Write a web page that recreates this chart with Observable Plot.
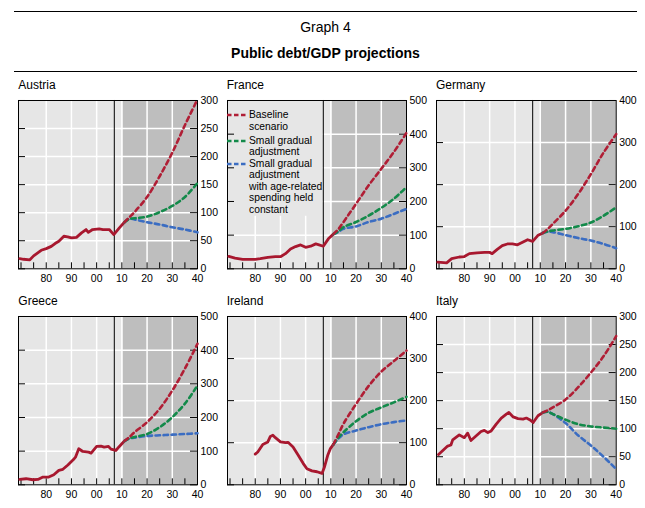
<!DOCTYPE html>
<html><head><meta charset="utf-8">
<script src="https://cdn.jsdelivr.net/npm/d3@7"></script>
<script src="https://cdn.jsdelivr.net/npm/@observablehq/plot@0.6"></script>
<style>
body{margin:0;background:#fff;font-family:"Liberation Sans",Arial,sans-serif;}
#root{position:relative;width:645px;height:508px;overflow:hidden;background:#fff;}
.hr{position:absolute;left:14px;width:623px;height:0;border-top:1px solid #000;}
.t{position:absolute;white-space:nowrap;color:#000;}
</style></head><body><div id="root"></div>
<script>
// ---------- DATA ----------
const countries = ["Austria", "France", "Germany", "Greece", "Ireland", "Italy"];
const seriesNames = ["Baseline scenario", "Small gradual adjustment", "Small gradual adjustment with age-related spending held constant"];

// historical public debt/GDP (year, % of GDP)
const austriaHist = [[1969.5,18],[1971,17],[1973.5,16],[1975,23],[1976.5,28],[1978,33],[1980,36],[1982,40],[1983.5,45],[1985,49],[1987,58],[1988.5,57],[1990,55],[1992,56],[1994,64],[1995.8,70],[1996.7,65],[1998.4,70],[2001,71],[2002.5,70],[2005,70],[2006.8,61],[2009,73],[2011,83]];
const franceHist = [[1969.5,37],[1972,32],[1975,28],[1980,28],[1982,30],[1985,34],[1988,36],[1990,36],[1992,45],[1994,59],[1996,66],[1998,71],[2000,64],[2002,67],[2004,74],[2005,72],[2007,67],[2009,89],[2011,103]];
const germanyHist = [[1969.5,16],[1973,14],[1975,24],[1978,28],[1980,29],[1982,36],[1985,38],[1988,39],[1990,39],[1991,36],[1993,46],[1995,55],[1997,59],[1999,59],[2001,57],[2003,63],[2005,69],[2007,65],[2009,79],[2011,85]];
const greeceHist = [[1969.5,16],[1972,18],[1974.7,15],[1976.7,16],[1978.7,23],[1981,23],[1983,30],[1985,43],[1986.6,46],[1988.6,59],[1990.8,75],[1991.6,82],[1992.9,107],[1994.5,99],[1996.8,97],[1997.8,94],[2000,114],[2001.7,115],[2003,112],[2004.7,114],[2005.7,106],[2007.6,102],[2009,114],[2011,130]];
const irelandHist = [[1980,73],[1981,78],[1983,96],[1985,102],[1986,115],[1987,118],[1988,112],[1990,102],[1992,100],[1993,101],[1995,90],[1997,71],[1999,51],[2000.5,38],[2002.5,33],[2004.5,31],[2006.5,27],[2007.5,43],[2008.8,71],[2009.8,86],[2011,96]];
const italyHist = [[1969.8,54],[1973.4,69],[1974.7,71],[1975.4,80],[1978,89],[1980,84],[1981.3,92],[1982.6,79],[1984.6,87],[1986.6,95],[1987.9,97],[1989.3,93],[1990.6,96],[1992.6,108],[1994.6,119],[1996.6,126],[1997.6,129],[1999.3,121],[2001.2,118],[2003.2,117],[2004.5,119],[2005.8,116],[2007.2,111],[2009.1,123],[2011.1,129]];

// projections
const projYears = [2011, 2013, 2015, 2020, 2025, 2030, 2035, 2040];
const austriaBaseline = [83, 92, 101, 128, 165, 207, 256, 302];
const austriaGradual  = [83, 89, 90, 93, 101, 112, 128, 153];
const austriaAgeConst = [83, 89, 88, 83, 79, 74, 70, 65];
const franceBaseline  = [103, 118, 139, 193, 248, 297, 347, 404];
const franceGradual   = [103, 112, 124, 139, 158, 181, 208, 243];
const franceAgeConst  = [103, 110, 119, 126, 139, 149, 163, 178];
const germanyBaseline = [85, 95, 107, 138, 178, 225, 276, 320];
const germanyGradual  = [85, 89, 91, 95, 101, 110, 126, 146];
const germanyAgeConst = [85, 88, 87, 80, 73, 67, 59, 49];
const greeceBaseline  = [130, 142, 156, 186, 226, 280, 345, 419];
const greeceGradual   = [130, 138, 142, 151, 171, 201, 241, 295];
const greeceAgeConst  = [130, 138, 140, 145, 147, 149, 151, 153];
const irelandBaseline = [96, 120, 145, 192, 235, 269, 294, 319];
const irelandGradual  = [96, 112, 125, 151, 171, 184, 196, 209];
const irelandAgeConst = [96, 110, 120, 129, 137, 144, 149, 153];
const italyBaseline   = [129, 133, 138, 152, 174, 200, 229, 265];
const italyGradual    = [129, 130, 126, 116, 108, 104, 102, 100];
const italyAgeConst   = [129, 130, 126, 110, 88, 70, 50, 28];

// axes / tick values
const xDomain = [1969, 2040];
const xTickYears = [1980, 1990, 2000, 2010, 2020, 2030, 2040];
const gridYears = [1980, 1990, 2000, 2010, 2020, 2030];
const minorTickYears = [1970, 1975, 1980, 1985, 1990, 1995, 2000, 2005, 2010, 2015, 2020, 2025, 2030, 2035];
const austriaTicks = [0, 50, 100, 150, 200, 250, 300];
const franceTicks  = [0, 100, 200, 300, 400, 500];
const germanyTicks = [0, 100, 200, 300, 400];
const greeceTicks  = [0, 100, 200, 300, 400, 500];
const irelandTicks = [0, 100, 200, 300, 400];
const italyTicks   = [0, 50, 100, 150, 200, 250, 300];
const markerYear = [2007];
const projectionPeriod = [[2010.5, 2040]];

// ---------- STYLE / LAYOUT ----------
const LIGHT = "#e6e6e6", DARK = "#bebebe";
const RED_H = "#a8182f", RED = "#b01e35", GREEN = "#138a4a", BLUE = "#3b6dc2";
const seriesColors = [RED, GREEN, BLUE];
const FONT = "'Liberation Sans', Arial, sans-serif";
const DASH = "4.5,3.5";

const histAll = [austriaHist, franceHist, germanyHist, greeceHist, irelandHist, italyHist];
const projAll = [
  [austriaBaseline, austriaGradual, austriaAgeConst],
  [franceBaseline, franceGradual, franceAgeConst],
  [germanyBaseline, germanyGradual, germanyAgeConst],
  [greeceBaseline, greeceGradual, greeceAgeConst],
  [irelandBaseline, irelandGradual, irelandAgeConst],
  [italyBaseline, italyGradual, italyAgeConst]
];
const ticksAll = [austriaTicks, franceTicks, germanyTicks, greeceTicks, irelandTicks, italyTicks];

const colLeft = [18.3, 226.7, 436], colW = [179, 179, 179.7];
const rowTop = [100, 316];
const FH = 168.3;

const root = document.getElementById("root");
function addDiv(cls, css, text) {
  const d = document.createElement("div");
  d.className = cls; d.style.cssText = css;
  if (text != null) d.textContent = text;
  root.appendChild(d); return d;
}

// header
addDiv("hr", "top:11px;");
addDiv("hr", "top:71px;");
addDiv("t", "left:14px;width:623px;text-align:center;top:19px;font-size:14px;line-height:16px;", "Graph 4");
addDiv("t", "left:14px;width:623px;text-align:center;top:45px;font-size:14px;line-height:16px;font-weight:bold;", "Public debt/GDP projections");

countries.forEach((name, i) => {
  const col = i % 3, row = Math.floor(i / 3);
  const L = colLeft[col], T = rowTop[row], W = colW[col];
  const yTicks = ticksAll[i];
  const yMax = yTicks[yTicks.length - 1];
  const hist = histAll[i].map(([year, value]) => ({year, value}));
  const projs = projAll[i].map((vals, s) => projYears.map((year, k) => ({year, value: vals[k], series: seriesNames[s]})));
  const mT = 1, mL = 1, mR = 32, mB = 24;

  const marks = [
    Plot.frame({fill: LIGHT, stroke: "none"}),
    Plot.rect(projectionPeriod, {x1: d => d[0], x2: d => d[1], y1: () => 0, y2: () => yMax, fill: DARK}),
    Plot.ruleX(gridYears, {stroke: "white", strokeWidth: 1.5}),
    Plot.ruleY(yTicks.slice(1, -1), {stroke: "white", strokeWidth: 1.5})
  ];
  if (i === 1) marks.push(Plot.frame({fill: LIGHT, stroke: "none", insetRight: 84, insetBottom: 53}));
  marks.push(
    Plot.ruleX(minorTickYears, {stroke: "black", strokeWidth: 1, insetTop: FH - 6}),
    Plot.ruleY(yTicks, {stroke: "black", strokeWidth: 1, insetRight: W - 7}),
    Plot.ruleY(yTicks, {stroke: "black", strokeWidth: 1, insetLeft: W - 7}),
    Plot.frame({stroke: "black", strokeWidth: 1}),
    Plot.ruleX(markerYear, {stroke: "black", strokeWidth: 1}),
    Plot.line(hist, {x: "year", y: "value", stroke: RED_H, strokeWidth: 2.8, strokeLinejoin: "round", strokeLinecap: "round"})
  );
  [2, 1, 0].forEach(s => {
    marks.push(Plot.line(projs[s], {x: "year", y: "value", stroke: seriesColors[s], strokeWidth: 2.6, strokeDasharray: DASH, curve: "catmull-rom"}));
  });

  const chart = Plot.plot({
    width: W + mL + mR, height: FH + mT + mB,
    marginTop: mT, marginLeft: mL, marginRight: mR, marginBottom: mB,
    style: {fontFamily: FONT, fontSize: "10.5px", background: "transparent", overflow: "visible", color: "#000"},
    x: {domain: xDomain, ticks: xTickYears, tickFormat: d => String(d % 100).padStart(2, "0"), tickSize: 0, tickPadding: 6, label: null},
    y: {domain: [0, yMax], axis: "right", ticks: yTicks, tickSize: 0, tickPadding: 3, label: null},
    marks
  });
  chart.style.position = "absolute";
  chart.style.left = (L - mL) + "px";
  chart.style.top = (T - mT) + "px";
  root.appendChild(chart);

  addDiv("t", `left:${L}px;top:${T - 22}px;font-size:12px;line-height:14px;`, name);
});

// legend (France panel)
const legendLines = [["Baseline", "scenario"], ["Small gradual", "adjustment"], ["Small gradual", "adjustment", "with age-related", "spending held", "constant"]];
const legendCenters = [115, 140.5, 163.5];
legendLines.forEach((lines, s) => {
  const cy = legendCenters[s];
  const sw = document.createElementNS("http://www.w3.org/2000/svg", "svg");
  sw.setAttribute("width", 20); sw.setAttribute("height", 4);
  sw.style.cssText = `position:absolute;left:227px;top:${cy - 2}px;`;
  sw.innerHTML = `<line x1="0" x2="20" y1="2" y2="2" stroke="${seriesColors[s]}" stroke-width="2.6" stroke-dasharray="4.5,2.5"/>`;
  root.appendChild(sw);
  const d = addDiv("t", `left:249px;top:${cy - 5.75}px;font-size:10.3px;line-height:11.5px;`);
  d.innerHTML = lines.join("<br>");
});
</script></body></html>
